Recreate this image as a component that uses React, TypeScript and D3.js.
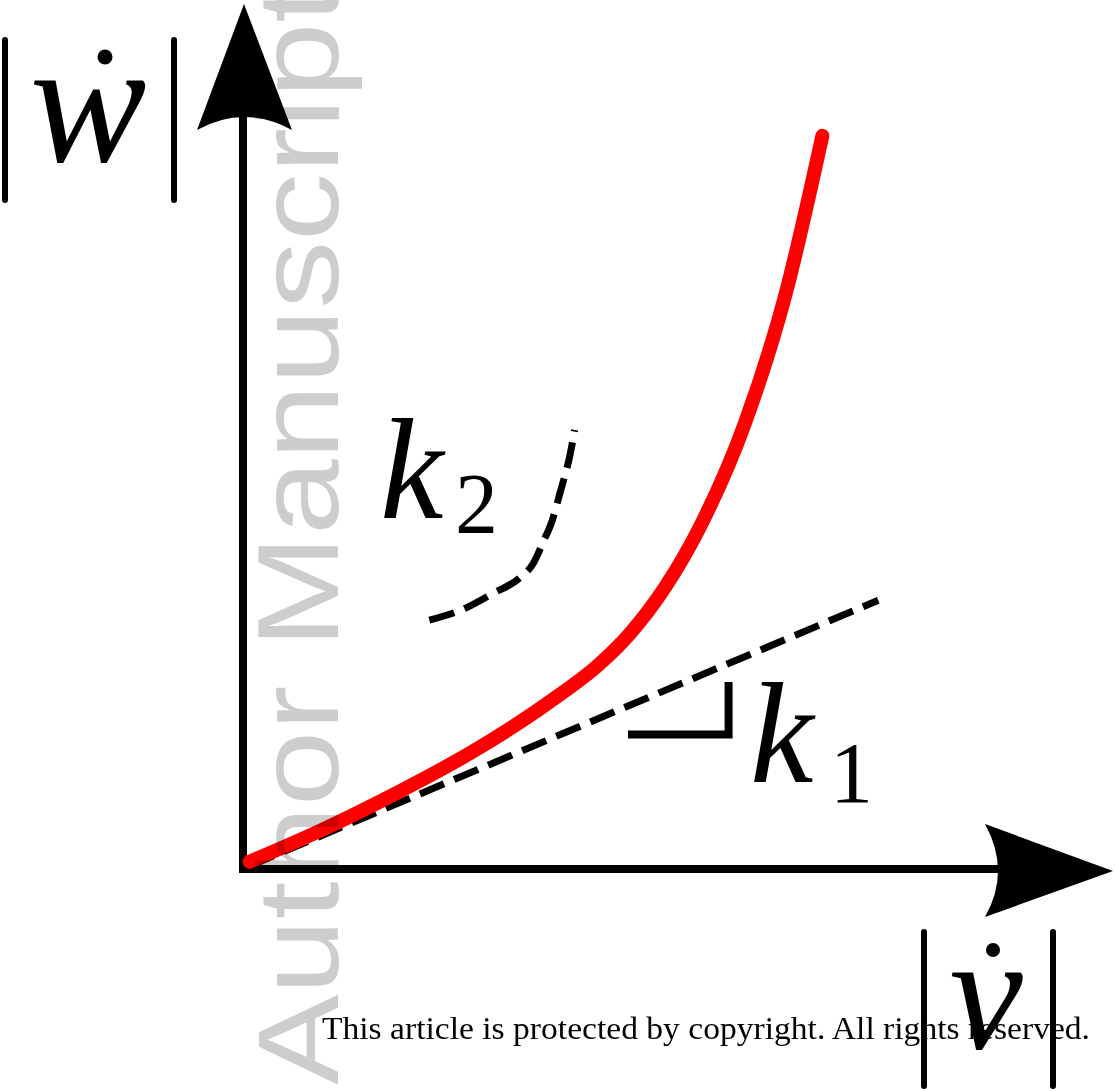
import React from "react";
import * as d3 from "d3";

// Schematic: |w-dot| grows with |v-dot|, initial slope k1, stiffening slope k2.
const W = 1117;
const H = 1091;

// response curve (|v-dot|, |w-dot|)
const curveX = [0.03, 0.85, 1.78, 2.59, 3.52, 4.1, 4.45, 4.86, 5.27, 5.79, 6.26, 6.69];
const curveY = [0.05, 0.41, 0.87, 1.31, 1.91, 2.35, 2.7, 3.24, 3.95, 5.15, 6.64, 8.49];

// initial tangent (slope k1)
const tangentX = [0.03, 7.34];
const tangentY = [0.0, 3.09];

// slope indicator for k2
const k2X = [2.12, 2.5, 2.86, 3.17, 3.33, 3.44, 3.55, 3.64, 3.76, 3.81];
const k2Y = [2.86, 2.98, 3.17, 3.35, 3.52, 3.76, 4.02, 4.34, 4.8, 5.07];

// right-angle marker for k1
const cornerX = [4.43, 5.6, 5.6];
const cornerY = [1.53, 1.53, 2.14];

const labelK = "k";
const footer = "This article is protected by copyright. All rights reserved.";
const watermark = "Author Manuscript";

export default function App() {
  const x = d3.scaleLinear().domain([0, 10]).range([247, 1107]);
  const y = d3.scaleLinear().domain([0, 10]).range([866, 6]);

  const zip = (xs: number[], ys: number[]) => xs.map((v, i) => [v, ys[i]] as [number, number]);

  const smooth = d3
    .line<[number, number]>()
    .x((d) => x(d[0]))
    .y((d) => y(d[1]))
    .curve(d3.curveMonotoneX);
  const straight = d3
    .line<[number, number]>()
    .x((d) => x(d[0]))
    .y((d) => y(d[1]));

  const ox = 243;
  const oy = 869;

  const serif = "'Liberation Serif', 'Times New Roman', serif";

  return (
    <svg
      width={W}
      height={H}
      viewBox={`0 0 ${W} ${H}`}
      style={{ position: "absolute", left: 0, top: 0, background: "#fff" }}
    >
      {/* axes */}
      <line x1={ox} y1={oy + 4} x2={ox} y2={115} stroke="#000" strokeWidth={8} />
      <line x1={ox - 4} y1={oy} x2={1000} y2={oy} stroke="#000" strokeWidth={8} />
      <path d={`M244,4 L197,130 Q244,104 292,130 Z`} fill="#000" />
      <path d={`M1113,871 L985,824 Q1011,871 985,917 Z`} fill="#000" />

      {/* k1 tangent */}
      <path
        d={straight(zip(tangentX, tangentY)) || ""}
        fill="none"
        stroke="#000"
        strokeWidth={7}
        strokeDasharray="26 11"
      />
      {/* k1 corner */}
      <path
        d={straight(zip(cornerX, cornerY)) || ""}
        fill="none"
        stroke="#000"
        strokeWidth={8}
      />
      {/* k2 guide */}
      <path
        d={smooth(zip(k2X, k2Y)) || ""}
        fill="none"
        stroke="#000"
        strokeWidth={7}
        strokeDasharray="26 11"
      />

      {/* response curve */}
      <path
        d={smooth(zip(curveX, curveY)) || ""}
        fill="none"
        stroke="#ff0000"
        strokeWidth={14}
        strokeLinecap="round"
        strokeLinejoin="round"
      />

      {/* labels */}
      <g fill="#000" fontFamily={serif}>
        <text x={380} y={518} fontSize={143} fontStyle="italic">{labelK}</text>
        <text x={455} y={533} fontSize={86}>2</text>
        <text x={750} y={782} fontSize={143} fontStyle="italic">{labelK}</text>
        <text x={830} y={802} fontSize={86}>1</text>

        {/* |w-dot| */}
        <line x1={5} y1={40} x2={5} y2={200} stroke="#000" strokeWidth={6} strokeLinecap="round" />
        <line x1={174} y1={40} x2={174} y2={200} stroke="#000" strokeWidth={6} strokeLinecap="round" />
        <text x={88} y={161} fontSize={175} fontStyle="italic" textAnchor="middle">w</text>
        <circle cx={105} cy={57} r={7.5} />

        {/* |v-dot| */}
        <line x1={924} y1={932} x2={924} y2={1086} stroke="#000" strokeWidth={6} strokeLinecap="round" />
        <line x1={1053} y1={932} x2={1053} y2={1086} stroke="#000" strokeWidth={6} strokeLinecap="round" />
        <text x={986} y={1048} fontSize={165} fontStyle="italic" textAnchor="middle">v</text>
        <circle cx={993} cy={950} r={7} />
      </g>

      <text
        x={322}
        y={1039}
        fontFamily={serif}
        fontSize={32}
        textLength={768}
        lengthAdjust="spacingAndGlyphs"
        fill="#000"
      >
        {footer}
      </text>

      {/* watermark */}
      <text
        transform="translate(338,1085) rotate(-90)"
        x={0}
        y={0}
        fontFamily="'Liberation Sans', Arial, sans-serif"
        fontSize={115}
        textLength={1100}
        lengthAdjust="spacingAndGlyphs"
        fill="#cdcdcd"
        style={{ mixBlendMode: "multiply" }}
      >
        {watermark}
      </text>
    </svg>
  );
}
